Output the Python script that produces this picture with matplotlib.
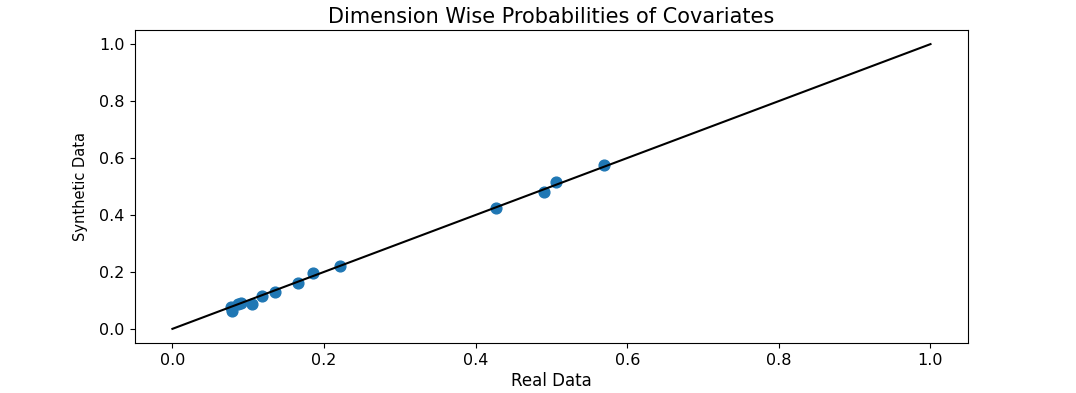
import matplotlib
matplotlib.use("Agg")
import matplotlib.pyplot as plt

real = [0.077, 0.079, 0.086, 0.090, 0.105, 0.118, 0.135, 0.166, 0.186, 0.221,
        0.427, 0.490, 0.506, 0.569]
synthetic = [0.078, 0.064, 0.086, 0.092, 0.089, 0.117, 0.131, 0.160, 0.195, 0.219,
             0.424, 0.481, 0.516, 0.576]
diag = [0.0, 1.0]

fig = plt.figure(figsize=(10.76, 3.93), dpi=100)
ax = fig.add_subplot(111)
fig.subplots_adjust(left=0.125, right=0.9, bottom=0.127, top=0.924)

ax.scatter(real, synthetic, s=60, color="#1f77b4")
ax.plot(diag, diag, color="black", linewidth=1.5)
ax.set_title("Dimension Wise Probabilities of Covariates", fontsize=15, pad=5)
ax.set_xlabel("Real Data", fontsize=12, labelpad=3)
ax.set_ylabel("Synthetic Data", fontsize=10.5, labelpad=8)
ax.tick_params(labelsize=11.5)

plt.savefig("out.png", dpi=100)
